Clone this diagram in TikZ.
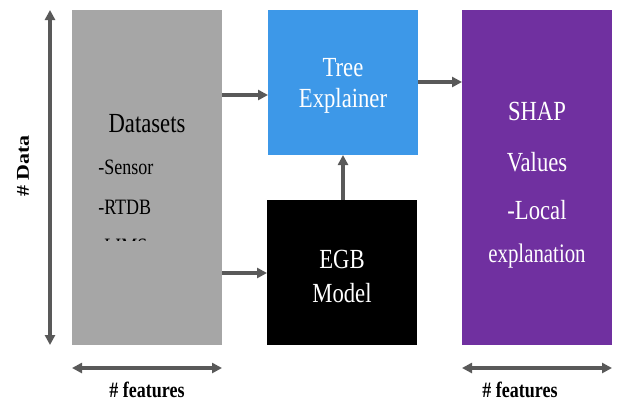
\documentclass[tikz,border=0pt]{standalone}
\usepackage{fontspec}
\usepackage{graphicx}
\setmainfont{Liberation Serif}
\usetikzlibrary{arrows.meta}
\definecolor{boxgrey}{HTML}{A6A6A6}
\definecolor{treeblue}{HTML}{3D98E8}
\definecolor{shappurple}{HTML}{7030A0}
\definecolor{arrowgrey}{HTML}{595959}
\newcommand{\vst}[1]{\scalebox{1}[1.22]{#1}}
\tikzset{
  block/.style={draw=none, inner sep=0pt, outer sep=0pt},
  conn/.style={draw=arrowgrey, line width=2.4pt, -{Triangle[length=7.5pt,width=7.5pt]}},
  dim/.style={draw=arrowgrey, line width=2.4pt, {Triangle[length=7.5pt,width=7.5pt]}-{Triangle[length=7.5pt,width=7.5pt]}},
  lbl/.style={font=\bfseries\fontsize{13.5}{16}\selectfont, inner sep=0pt},
  boxtxt/.style={font=\fontsize{17}{20}\selectfont, inner sep=0pt},
  itemtxt/.style={font=\fontsize{13.5}{16}\selectfont, inner sep=0pt, anchor=base west},
}
\begin{document}
\begin{tikzpicture}[x=0.75pt,y=-0.75pt]
\useasboundingbox (0,0) rectangle (621,401);
\fill[white] (0,0) rectangle (621,401);
% boxes
\node[block, fill=boxgrey, minimum width=112.5pt, minimum height=251.25pt, anchor=north west] (ds) at (72,10) {};
\node[block, fill=treeblue, minimum width=112.5pt, minimum height=108.75pt, anchor=north west] (tree) at (268,10) {};
\node[block, fill=black, minimum width=112.5pt, minimum height=108.75pt, anchor=north west] (egb) at (267,200) {};
\node[block, fill=shappurple, minimum width=112.5pt, minimum height=251.25pt, anchor=north west] (shap) at (462,10) {};
% dataset text
\node[boxtxt] (dstitle) at (147,124) {\vst{Datasets}};
\node[itemtxt] (s1) at (98,174) {\vst{-Sensor}};
\node[itemtxt] (s2) at (98,214) {\vst{-RTDB}};
\node[itemtxt] (s3) at (98,253) {\vst{-LIMS}};
\fill[boxgrey] (90,241) rectangle (212,280);
% tree text
\node[boxtxt, text=white] (treetxt) at (343,68) {\vst{Tree}};
\node[boxtxt, text=white] (treetxt2) at (343,101) {\vst{Explainer}};
% egb text
\node[boxtxt, text=white] (egbtxt) at (342,259) {\vst{EGB}};
\node[boxtxt, text=white] (egbtxt2) at (342,293) {\vst{Model}};
% shap text
\node[boxtxt, text=white] (sh1) at (537,111) {\vst{SHAP}};
\node[boxtxt, text=white] (sh2) at (537,162) {\vst{Values}};
\node[boxtxt, text=white] (sh3) at (537,210) {\vst{-Local}};
\node[boxtxt, text=white] (sh4) at (537,256) {\scalebox{0.92}[1.18]{explanation}};
% connectors
\coordinate (dsA) at (222,95);
\coordinate (treeA) at (268,95);
\coordinate (dsB) at (222,273);
\coordinate (egbB) at (267,273);
\draw[conn] (dsA) -- (treeA);
\draw[conn] (dsB) -- (egbB);
\draw[conn] (egb.north -| 343,0) -- (tree.south -| 343,0);
\coordinate (treeC) at (418,82);
\coordinate (shapC) at (462,82);
\draw[conn] (treeC) -- (shapC);
% dimension arrows
\coordinate (dtop) at (50,10);
\coordinate (dbot) at (50,345);
\draw[dim] (dtop) -- (dbot);
\node[lbl, rotate=90] (dlbl) at (23,166) {\scalebox{1.22}[1]{\# Data}};
\coordinate (f1l) at (72,368);
\coordinate (f1r) at (222,368);
\draw[dim] (f1l) -- (f1r);
\node[lbl] (f1lbl) at (147,390) {\vst{\# features}};
\coordinate (f2l) at (462,368);
\coordinate (f2r) at (612,368);
\draw[dim] (f2l) -- (f2r);
\node[lbl] (f2lbl) at (520,390) {\vst{\# features}};
\end{tikzpicture}
\end{document}
